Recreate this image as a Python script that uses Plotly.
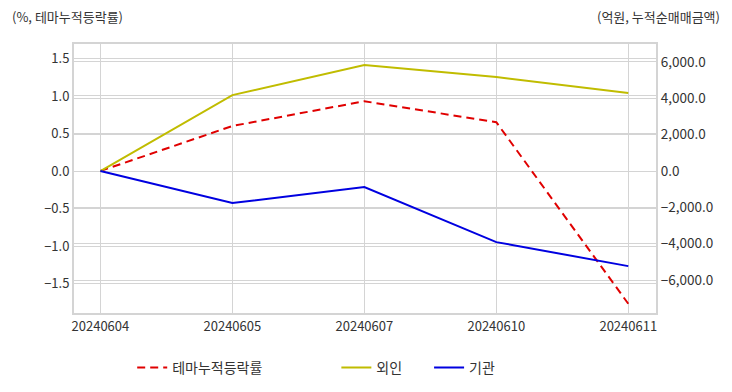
import plotly.graph_objects as go

dates = ["20240604", "20240605", "20240607", "20240610", "20240611"]
theme_rate = [0.0, 0.60, 0.93, 0.65, -1.77]
foreign = [0.0, 4180.0, 5830.0, 5170.0, 4290.0]
institution = [0.0, -1760.0, -880.0, -3910.0, -5230.0]

FONT = "Noto Sans CJK KR"
GRID = "#d4d4d4"
TXT = "#333333"

fig = go.Figure()
fig.add_trace(go.Scatter(x=dates, y=theme_rate, name="테마누적등락률" + "\u00a0" * 22, mode="lines",
                         line=dict(color="#e00000", width=2, dash="8px,5px"), yaxis="y"))
fig.add_trace(go.Scatter(x=dates, y=foreign, name="외인" + "\u00a0" * 7, mode="lines",
                         line=dict(color="#c0bc00", width=2), yaxis="y2"))
fig.add_trace(go.Scatter(x=dates, y=institution, name="기관", mode="lines",
                         line=dict(color="#0000e0", width=2), yaxis="y2"))

fig.update_layout(
    width=724, height=384,
    margin=dict(l=66, r=76, t=36, b=79, autoexpand=False),
    paper_bgcolor="white", plot_bgcolor="white",
    font=dict(family=FONT, size=13, color=TXT),
    showlegend=True,
    legend=dict(orientation="h", x=0.1, xanchor="left", y=-0.145, yanchor="top",
                font=dict(size=14, color=TXT), tracegroupgap=0),
    xaxis=dict(type="category", range=[-0.2, 4.21], showgrid=True, gridcolor=GRID,
               showline=True, linecolor=GRID, linewidth=2, mirror=True,
               ticks="", tickfont=dict(size=13, color=TXT), automargin=False),
    yaxis=dict(range=[-1.893, 1.693], tickvals=[-1.5, -1.0, -0.5, 0.0, 0.5, 1.0, 1.5],
               tickformat=".1f", showgrid=True, gridcolor=GRID, zeroline=False,
               showline=True, linecolor=GRID, linewidth=2, ticks="",
               tickfont=dict(size=13, color=TXT), automargin=False),
    yaxis2=dict(overlaying="y", side="right", range=[-7810, 6990],
                tickvals=[-6000, -4000, -2000, 0, 2000, 4000, 6000],
                tickformat=",.1f", showgrid=True, gridcolor=GRID, zeroline=False,
                showline=True, linecolor=GRID, linewidth=2, ticks="",
                tickfont=dict(size=13.5, color=TXT), automargin=False),
    annotations=[
        dict(text="(%, 테마누적등락률)", xref="paper", yref="paper", x=-0.11, y=1.104,
             xanchor="left", yanchor="middle", showarrow=False,
             font=dict(size=13, color=TXT)),
        dict(text="(억원, 누적순매매금액)", xref="paper", yref="paper", x=1.1134, y=1.104,
             xanchor="right", yanchor="middle", showarrow=False,
             font=dict(size=13, color=TXT)),
    ],
)

fig.write_html("out.html")
